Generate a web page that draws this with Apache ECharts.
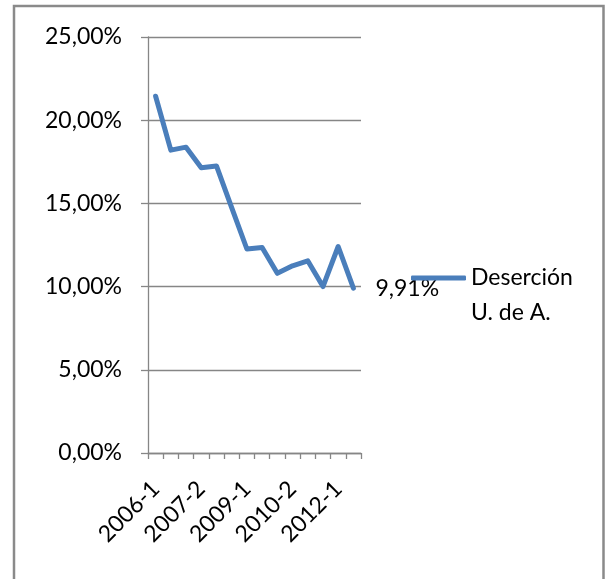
<!DOCTYPE html>
<html>
<head>
<meta charset="utf-8">
<script src="https://cdn.jsdelivr.net/npm/echarts@6/dist/echarts.min.js"></script>
<style>
html,body{margin:0;padding:0;background:#fff;}
#chart{width:605px;height:579px;}
</style>
</head>
<body>
<div id="chart"></div>
<script>
var categories = ['2006-1','2006-2','2007-1','2007-2','2008-1','2008-2','2009-1','2009-2','2010-1','2010-2','2011-1','2011-2','2012-1','2012-2'];
var desercion = [21.44, 18.2, 18.38, 17.14, 17.25, 14.75, 12.26, 12.35, 10.8, 11.25, 11.55, 10.0, 12.41, 9.91];
var seriesName = 'Deserción\nU. de A.';
var yTicks = {min: 0, max: 25, interval: 5};

var FONT = 'Lato';
var chart = echarts.init(document.getElementById('chart'));
function fmtPct(v){ return v.toFixed(2).replace('.', ',') + '%'; }
chart.setOption({
  animation: false,
  backgroundColor: '#fff',
  graphic: [{
    type: 'rect',
    shape: {x: 14, y: 6, width: 589.5, height: 600},
    style: {fill: 'none', stroke: '#8a8a8a', lineWidth: 2.5},
    silent: true
  }],
  grid: {left: 148, top: 37, width: 213, height: 416, containLabel: false},
  legend: {
    left: 411, top: 225.5,
    padding: 0,
    itemWidth: 55, itemHeight: 5,
    icon: 'roundRect',
    data: [seriesName],
    formatter: function(n){ return '\n' + n; },
    textStyle: {fontFamily: FONT, fontSize: 23, color: '#000', lineHeight: 35}
  },
  xAxis: {
    type: 'category',
    data: categories,
    boundaryGap: true,
    axisLine: {lineStyle: {color: '#868686', width: 1.3}},
    axisTick: {show: true, interval: 0, length: 6, lineStyle: {color: '#868686', width: 1.3}},
    axisLabel: {interval: 2, rotate: 45, margin: 32, fontFamily: FONT, fontSize: 23, color: '#000'},
    splitLine: {show: false}
  },
  yAxis: {
    type: 'value',
    min: yTicks.min, max: yTicks.max, interval: yTicks.interval,
    axisLine: {show: true, lineStyle: {color: '#868686', width: 1.3}},
    axisTick: {show: true, inside: false, length: 7, lineStyle: {color: '#868686', width: 1.3}},
    axisLabel: {margin: 26, fontFamily: FONT, fontSize: 23, color: '#000', formatter: fmtPct},
    splitLine: {show: true, lineStyle: {color: '#868686', width: 1.3}}
  },
  series: [{
    name: seriesName,
    type: 'line',
    data: desercion,
    showSymbol: false,
    symbol: 'none',
    lineStyle: {color: '#4a7ebb', width: 5, join: 'round', cap: 'round'},
    itemStyle: {color: '#4a7ebb'},
    label: {show: false},
    endLabel: {
      show: true,
      distance: 22,
      fontFamily: FONT, fontSize: 23, color: '#000',
      formatter: function(p){ return fmtPct(p.value); }
    }
  }]
});
</script>
</body>
</html>
